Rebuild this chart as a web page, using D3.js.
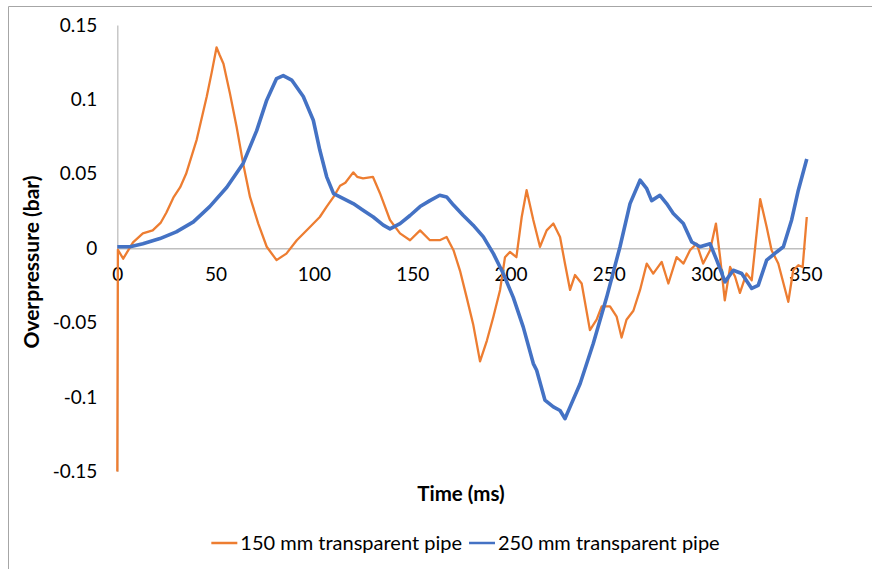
<!doctype html>
<html lang="en">
<head>
    <meta charset="UTF-8">
    <title>Overpressure</title>
    <style>
      body { margin: 0; background: #fff; }
      text { font-family: Lato, "Open Sans", sans-serif; }
    </style>
</head>
<body>
<div class="container"></div>

<script src="https://d3js.org/d3.v7.min.js"></script>
<script>
  // 150 mm transparent pipe (time ms, overpressure bar)
  const time150 = [0, 0.3, 3, 8, 13, 18, 22, 25, 28.5, 32, 35, 40.4, 45.5, 48, 50.5, 52, 54, 57.3, 60.7, 64, 67.5, 71.7, 76, 81, 86, 91.3, 98, 103, 106.5, 110, 113.3, 116, 120, 122, 125, 130, 133.6, 138.7, 143.8, 148.9, 154, 159, 164, 167.5, 171, 174.3, 177.7, 181, 184.5, 188, 191.3, 194.7, 197.2, 199.7, 203, 205.7, 208.2, 211.6, 215, 218.4, 221.8, 225.2, 227.7, 230.3, 232.8, 236.2, 240.4, 243.8, 246.4, 250.6, 254, 256.5, 259, 262.5, 265.9, 269.3, 272.6, 276.9, 280.3, 284.5, 288, 291.3, 294.7, 298, 301.5, 304.5, 306.6, 309, 311.7, 314.2, 316.7, 320, 322.7, 327, 330.3, 332.8, 336.2, 341.3, 343.8, 346.4, 348.6, 350.7];
  const pressure150 = [-0.15, -0.001, -0.007, 0.004, 0.010, 0.012, 0.017, 0.024, 0.034, 0.041, 0.050, 0.073, 0.102, 0.118, 0.135, 0.130, 0.124, 0.104, 0.0815, 0.057, 0.0345, 0.0166, 0.001, -0.008, -0.0036, 0.0054, 0.0143, 0.021, 0.028, 0.0345, 0.042, 0.044, 0.051, 0.048, 0.047, 0.048, 0.037, 0.019, 0.010, 0.0054, 0.012, 0.0054, 0.0054, 0.0076, -0.0013, -0.015, -0.033, -0.051, -0.076, -0.062, -0.046, -0.028, -0.006, -0.0025, -0.006, 0.021, 0.039, 0.019, 0.001, 0.012, 0.0166, 0.0076, -0.0103, -0.028, -0.018, -0.0237, -0.055, -0.048, -0.039, -0.039, -0.046, -0.060, -0.048, -0.042, -0.028, -0.0103, -0.017, -0.0092, -0.0237, -0.006, -0.0103, -0.0013, 0.003, -0.0103, -0.0013, 0.0166, -0.006, -0.035, -0.0126, -0.019, -0.030, -0.017, -0.0215, 0.033, 0.0143, -0.0013, -0.0103, -0.036, -0.0148, -0.0114, -0.0126, 0.021];

  // 250 mm transparent pipe
  const time250 = [0, 6.5, 13, 21.7, 30, 38.7, 47, 55.7, 64, 70.9, 76, 81, 84.4, 88.7, 94.6, 99.7, 103, 106.5, 110, 115, 120, 125, 130.2, 135.3, 138.7, 143.8, 148.9, 154, 159, 164, 167.5, 171, 176, 181, 186.2, 191.3, 196.3, 201.4, 206.5, 211.6, 213.3, 217.5, 221.8, 225.2, 227.7, 230.3, 235.4, 242.1, 248.9, 255.7, 260.8, 265.9, 269.3, 271.8, 276, 279.4, 282.8, 287.9, 292.2, 296.4, 301.5, 304.9, 309.1, 313.3, 317.6, 322.7, 326, 330.3, 335.4, 338.8, 343, 346.4, 350.7];
  const pressure250 = [0.001, 0.001, 0.003, 0.0065, 0.011, 0.0177, 0.028, 0.041, 0.057, 0.079, 0.0995, 0.114, 0.116, 0.113, 0.102, 0.086, 0.066, 0.048, 0.0367, 0.0334, 0.030, 0.0255, 0.021, 0.0155, 0.013, 0.0166, 0.022, 0.028, 0.032, 0.0356, 0.0345, 0.029, 0.022, 0.0155, 0.0076, -0.0036, -0.017, -0.033, -0.053, -0.0775, -0.082, -0.102, -0.1066, -0.109, -0.1145, -0.1066, -0.091, -0.064, -0.033, 0.001, 0.030, 0.0457, 0.040, 0.032, 0.0356, 0.030, 0.0233, 0.0166, 0.0042, 0.001, 0.003, -0.008, -0.0226, -0.0148, -0.017, -0.027, -0.0249, -0.008, -0.0025, 0.001, 0.019, 0.039, 0.060];

  const xTicks = [0, 50, 100, 150, 200, 250, 300, 350];
  const yTicks = [-0.15, -0.1, -0.05, 0, 0.05, 0.1, 0.15];
  const seriesNames = ['150 mm transparent pipe', '250 mm transparent pipe'];
  const seriesColors = ['#ED7D31', '#4472C4'];

  const SVG_WIDTH = 872;
  const SVG_HEIGHT = 569;
  const PLOT_LEFT = 117.3;
  const PLOT_RIGHT = 805.4;
  const PLOT_TOP = 25;
  const PLOT_BOTTOM = 471.5;

  const svg = d3.select('.container')
    .append('svg')
    .attr('width', SVG_WIDTH)
    .attr('height', SVG_HEIGHT)

  // chart area border (only top and left fall inside the picture)
  svg.append('path')
    .attr('d', `M8.5,${SVG_HEIGHT} V6.5 H${SVG_WIDTH}`)
    .attr('fill', 'none')
    .attr('stroke', '#A6A6A6')
    .attr('stroke-width', 1);

  const x = d3.scaleLinear()
    .domain([0, 350])
    .range([PLOT_LEFT, PLOT_RIGHT]);

  const y = d3.scaleLinear()
    .domain([-0.15, 0.15])
    .range([PLOT_BOTTOM, PLOT_TOP]);

  // plain hyphen minus, like the original
  const fmt = d => String(+d.toFixed(2));

  // y axis: line at x = 0, labels to the left
  const yAxis = d3.axisLeft(y)
    .tickValues(yTicks)
    .tickSize(0)
    .tickPadding(20)
    .tickFormat(fmt);

  const yAxisGroup = svg.append('g')
    .attr('transform', `translate(${PLOT_LEFT}, 0)`)
    .call(yAxis);
  yAxisGroup.selectAll('text')
    .style('font-size', '19px')
    .attr('fill', '#000');

  // x axis: line at y = 0
  const xAxis = d3.axisBottom(x)
    .tickValues(xTicks)
    .tickSize(0)
    .tickPadding(19);

  const xAxisGroup = svg.append('g')
    .attr('transform', `translate(0, ${y(0)})`)
    .call(xAxis);
  xAxisGroup.selectAll('text')
    .style('font-size', '19px')
    .attr('fill', '#000');

  svg.selectAll('.domain')
    .attr('stroke', '#BFBFBF')
    .attr('stroke-width', 1.3);

  const line = d3.line()
    .x(d => x(d[0]))
    .y(d => y(d[1]));

  const series = [
    { name: seriesNames[0], color: seriesColors[0], width: 2.3, data: d3.zip(time150, pressure150) },
    { name: seriesNames[1], color: seriesColors[1], width: 3.6, data: d3.zip(time250, pressure250) }
  ];

  svg.selectAll('path.series')
    .data(series)
    .enter().append('path')
    .attr('class', 'series')
    .attr('d', d => line(d.data))
    .attr('fill', 'none')
    .attr('stroke', d => d.color)
    .attr('stroke-width', d => d.width)
    .attr('stroke-linejoin', 'round');

  // axis titles
  svg.append('text')
    .attr('x', 461)
    .attr('y', 501)
    .attr('text-anchor', 'middle')
    .style('font-size', '20.5px')
    .style('font-weight', 'bold')
    .text('Time (ms)');

  svg.append('text')
    .attr('transform', 'translate(39, 262) rotate(-90)')
    .attr('text-anchor', 'middle')
    .style('font-size', '21px')
    .style('font-weight', 'bold')
    .text('Overpressure (bar)');

  // legend
  const legend = svg.append('g');
  let cursor = 0;
  series.forEach((s) => {
    const item = legend.append('g').attr('transform', `translate(${cursor}, 0)`);
    item.append('line')
      .attr('x1', 0).attr('x2', 26)
      .attr('y1', 0).attr('y2', 0)
      .attr('stroke', s.color)
      .attr('stroke-width', 2.5);
    const label = item.append('text')
      .attr('x', 29)
      .attr('y', 7)
      .style('font-size', '20px')
      .text(s.name);
    cursor += 29 + label.node().getComputedTextLength() + 7;
  });
  const legendWidth = cursor - 7;
  legend.attr('transform', `translate(${465.5 - legendWidth / 2}, 543)`);

</script>
</body>
</html>
